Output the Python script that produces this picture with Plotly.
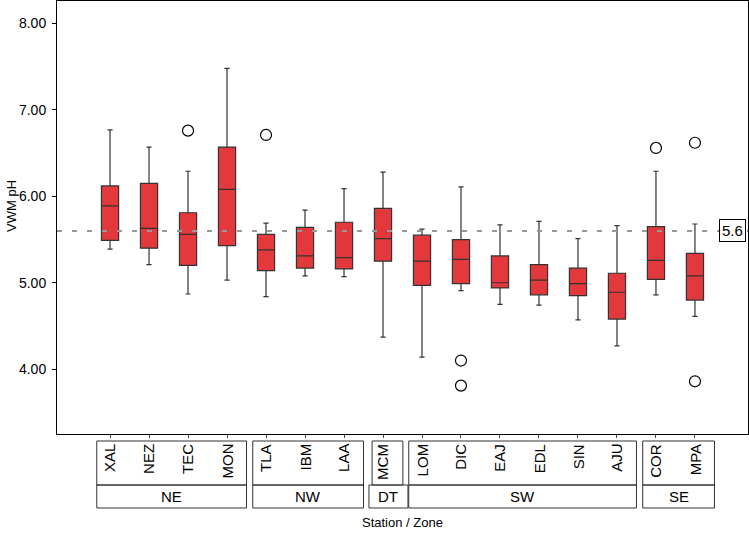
import plotly.graph_objects as go

# station / zone layout
stations = ['XAL', 'NEZ', 'TEC', 'MON', 'TLA', 'IBM', 'LAA', 'MCM',
            'LOM', 'DIC', 'EAJ', 'EDL', 'SIN', 'AJU', 'COR', 'MPA']
zones = ['NE', 'NW', 'DT', 'SW', 'SE']
zone_counts = [4, 3, 1, 6, 2]

# box stats (VWM pH)
upper_whisker = [6.77, 6.57, 6.29, 7.48, 5.69, 5.84, 6.09, 6.28,
                 5.62, 6.11, 5.67, 5.71, 5.51, 5.66, 6.29, 5.68]
q3_vals = [6.12, 6.15, 5.81, 6.57, 5.56, 5.64, 5.70, 5.86,
           5.55, 5.50, 5.31, 5.21, 5.17, 5.11, 5.65, 5.34]
median_vals = [5.89, 5.63, 5.56, 6.08, 5.38, 5.31, 5.29, 5.51,
               5.25, 5.27, 5.00, 5.03, 4.99, 4.89, 5.26, 5.08]
q1_vals = [5.49, 5.40, 5.20, 5.43, 5.14, 5.17, 5.16, 5.25,
           4.97, 4.99, 4.94, 4.86, 4.85, 4.58, 5.04, 4.80]
lower_whisker = [5.39, 5.21, 4.87, 5.03, 4.84, 5.08, 5.07, 4.37,
                 4.14, 4.91, 4.75, 4.74, 4.57, 4.27, 4.86, 4.61]

outlier_station = ['TEC', 'TLA', 'DIC', 'DIC', 'COR', 'MPA', 'MPA']
outlier_vals = [6.76, 6.71, 4.10, 3.81, 6.56, 6.62, 3.86]

ref_ph = 5.6

idx = list(range(len(stations)))
out_idx = [stations.index(s) for s in outlier_station]

fig = go.Figure()
fig.add_trace(go.Box(x=idx, q1=q1_vals, median=median_vals, q3=q3_vals,
                     lowerfence=lower_whisker, upperfence=upper_whisker,
                     width=0.44, whiskerwidth=0.3, boxpoints=False,
                     fillcolor='#E3393D', line={'color': '#333333', 'width': 1.2},
                     showlegend=False, hoverinfo='skip'))
fig.add_trace(go.Scatter(x=out_idx, y=outlier_vals, mode='markers',
                         marker={'symbol': 'circle-open', 'size': 11,
                                 'color': 'black', 'line': {'width': 1.2}},
                         showlegend=False))

fig.add_shape(type='line', xref='paper', x0=0, x1=1, yref='y', y0=ref_ph, y1=ref_ph,
              line={'color': '#999999', 'width': 2, 'dash': '5px,10px'})
fig.add_annotation(x=15.97, y=ref_ph, xref='x', yref='y', text=str(ref_ph),
                   xanchor='center', yanchor='middle',
                   showarrow=False, bgcolor='white', bordercolor='black',
                   borderwidth=1, borderpad=2, font={'size': 15, 'color': 'black'})

# station / zone label boxes under the axis
y_top, y_mid, y_bot = -0.0162, -0.1178, -0.1709
start = 0
for zone, n in zip(zones, zone_counts):
    first, last = start, start + n - 1
    if n == 1:
        zl, zr = first - 0.36, last + 0.64
        sl, sr = first - 0.28, last + 0.51
    else:
        zl, zr = first - 0.34, last + 0.5
        sl, sr = zl, zr
    fig.add_shape(type='rect', xref='x', yref='paper', x0=sl, x1=sr, y0=y_mid, y1=y_top,
                  line={'color': '#333333', 'width': 1})
    fig.add_shape(type='rect', xref='x', yref='paper', x0=zl, x1=zr, y0=y_bot, y1=y_mid,
                  line={'color': '#333333', 'width': 1})
    fig.add_annotation(x=(zl + zr) / 2, y=(y_mid + y_bot) / 2, xref='x', yref='paper',
                       xanchor='center', yanchor='middle',
                       text=zone, showarrow=False, font={'size': 15, 'color': 'black'})
    for i in range(first, last + 1):
        fig.add_annotation(x=i, y=y_top - 0.002, xref='x', yref='paper',
                           xanchor='center', yanchor='top',
                           text=stations[i], textangle=-90, showarrow=False,
                           font={'size': 15, 'color': 'black'})
    start += n

fig.add_annotation(x=0.5, y=-0.205, xref='paper', yref='paper', text='Station / Zone',
                   xanchor='center', yanchor='middle',
                   showarrow=False, font={'size': 13, 'color': 'black'})
fig.add_annotation(x=-0.065, y=0.527, xref='paper', yref='paper', text='VWM pH',
                   xanchor='center', yanchor='middle',
                   textangle=-90, showarrow=False, font={'size': 13, 'color': 'black'})

fig.update_xaxes(range=[-1.36, 16.36], tickvals=idx, showticklabels=False,
                 ticks='outside', ticklen=3, tickcolor='#444444',
                 showline=True, linecolor='black', linewidth=1, mirror=True,
                 showgrid=False, zeroline=False)
fig.update_yaxes(range=[3.25, 8.26], tickvals=[4, 5, 6, 7, 8], tickformat='.2f',
                 ticks='outside', ticklen=4, tickcolor='black', ticklabelstandoff=3,
                 showline=True, linecolor='black', linewidth=1, mirror=True,
                 showgrid=False, zeroline=False, tickfont={'size': 14, 'color': 'black'})
fig.update_layout(width=749, height=535,
                  margin={'l': 57, 'r': 1, 't': 1, 'b': 101},
                  plot_bgcolor='white', paper_bgcolor='white',
                  font={'family': 'Liberation Sans, Arial, sans-serif', 'color': 'black'})

fig.write_html("out.html", config={'displayModeBar': False},
               post_script="document.body.style.margin='0';")
